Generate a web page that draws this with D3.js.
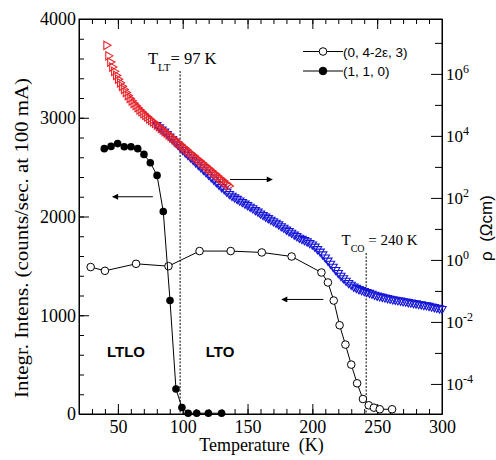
<!DOCTYPE html>
<html lang="en">
<head>
<meta charset="utf-8">
<title>Integrated intensity and resistivity vs temperature</title>
<script src="https://d3js.org/d3.v7.min.js"></script>
<style>
	body{ margin:0; background:#fff; }
	.axis path, .axis line{ stroke:#000; }
</style>
</head>
<body>
<script>

// ---- data ----
// (0, 4-2e, 3) reflection, open circles
var openT = [29, 40, 64, 89, 113, 137, 161, 184, 207, 212, 216.5, 221, 225.5, 230, 234.5, 239, 243.5, 247.5, 252, 261.5];
var openI = [1488, 1450, 1521, 1497, 1650, 1650, 1636, 1595, 1433, 1332, 1149, 899, 703, 500, 311, 152, 88, 64, 48, 48];

// (1, 1, 0) reflection, filled circles
var fillT = [39.5, 44.7, 49.8, 54.9, 60.1, 65.3, 70.1, 75, 80.2, 85, 90.2, 94.8, 99.4, 104.2, 110.8, 119.8, 130];
var fillI = [2687, 2710, 2738, 2707, 2707, 2687, 2629, 2545, 2416, 2051, 1149, 253, 66, 8, 8, 8, 8];

// resistivity, log10(rho / Ohm cm)
var redT = [41, 42.5, 44, 45.5, 47, 48.5, 50, 51.5, 53, 54.5, 56, 57.5, 59, 60.5, 62, 63.5, 65, 66.5, 68, 69.5,
	71, 72.5, 74, 75.5, 77, 78.5, 80, 81.5, 83, 84.5, 86, 87.5, 89, 90.5, 92, 93.5, 95, 96.5, 98, 99.5,
	101, 102.5, 104, 105.5, 107, 108.5, 110, 111.5, 113, 114.5, 116, 117.5, 119, 120.5, 122, 123.5, 125, 126.5, 128, 129.5,
	131, 132.5, 134, 135.5];
var redLog = [6.92, 6.58, 6.38, 6.22, 6.08, 5.95, 5.83, 5.71, 5.60, 5.50, 5.40, 5.30, 5.21, 5.13, 5.05, 4.98, 4.91, 4.84, 4.78, 4.72,
	4.66, 4.61, 4.55, 4.50, 4.45, 4.40, 4.35, 4.30, 4.24, 4.19, 4.14, 4.09, 4.03, 3.98, 3.93, 3.88, 3.82, 3.77, 3.72, 3.66,
	3.61, 3.56, 3.50, 3.45, 3.40, 3.35, 3.29, 3.24, 3.19, 3.13, 3.08, 3.03, 2.97, 2.92, 2.87, 2.81, 2.76, 2.71, 2.65, 2.60,
	2.55, 2.49, 2.44, 2.38];

var blueT = [80, 82, 84, 86, 88, 90, 92, 94, 96, 98, 100, 102, 104, 106, 108, 110, 112, 114, 116, 118,
	120, 122, 124, 126, 128, 130, 132, 134, 136, 138, 140, 142, 144, 146, 148, 150, 152, 154, 156, 158,
	160, 162, 164, 166, 168, 170, 172, 174, 176, 178, 180, 182, 184, 186, 188, 190, 192, 194, 196, 198,
	200, 202, 204, 206, 208, 210, 212, 214, 216, 218, 220, 222, 224, 226, 228, 230, 232, 234, 236, 238,
	240, 242, 244, 246, 248, 250, 252, 254, 256, 258, 260, 262, 264, 266, 268, 270, 272, 274, 276, 278,
	280, 282, 284, 286, 288, 290, 292, 294, 296, 298, 300];
var blueLog = [4.35, 4.28, 4.21, 4.14, 4.06, 3.98, 3.90, 3.81, 3.73, 3.64, 3.55, 3.47, 3.39, 3.31, 3.23, 3.15, 3.07, 2.99, 2.91, 2.83,
	2.75, 2.67, 2.59, 2.51, 2.43, 2.35, 2.28, 2.20, 2.13, 2.07, 2.02, 1.97, 1.92, 1.87, 1.82, 1.77, 1.72, 1.67, 1.61, 1.56,
	1.50, 1.45, 1.40, 1.35, 1.30, 1.25, 1.20, 1.15, 1.09, 1.04, 0.98, 0.93, 0.88, 0.82, 0.77, 0.72, 0.68, 0.64, 0.60, 0.55,
	0.50, 0.43, 0.35, 0.27, 0.18, 0.08, -0.02, -0.12, -0.22, -0.32, -0.42, -0.51, -0.59, -0.67, -0.74, -0.80, -0.86, -0.90, -0.94, -0.97,
	-1.00, -1.03, -1.06, -1.09, -1.12, -1.15, -1.17, -1.19, -1.21, -1.23, -1.25, -1.27, -1.28, -1.30, -1.31, -1.33, -1.34, -1.36, -1.37, -1.39,
	-1.40, -1.42, -1.43, -1.45, -1.46, -1.48, -1.50, -1.52, -1.54, -1.56, -1.58];

// ticks
var xMajor = [50, 100, 150, 200, 250, 300];
var yMajor = [0, 1000, 2000, 3000, 4000];
var rhoExp = [-4, -3, -2, -1, 0, 1, 2, 3, 4, 5, 6, 7];

// transitions and arrows (in data units)
var tLT = 98, tCO = 241.5;
var arrows = [
	{ from:[77, 2200], to:[46, 2200] },
	{ from:[136.5, 2375], to:[169, 2375] },
	{ from:[208.5, 1160], to:[176.5, 1160] }
];

// ---- layout ----
var w = 496, h = 460;
var pLeft = 79, pRight = 442, pTop = 19, pBottom = 414;
var serif = "'Liberation Serif', 'Times New Roman', serif";
var sans = "'Liberation Sans', Arial, sans-serif";

var x = d3.scaleLinear().domain([20, 300]).range([pLeft, pRight]);
var y = d3.scaleLinear().domain([0, 4000]).range([pBottom, pTop]);
var yR = d3.scaleLog().domain([Math.pow(10, -4.97), Math.pow(10, 7.77)]).range([pBottom, pTop]);

var svg = d3.select("body").append("svg").attr("width", w).attr("height", h);

svg.append("defs").append("marker")
	.attr("id", "head").attr("viewBox", "0 0 10 10")
	.attr("refX", 9).attr("refY", 5)
	.attr("markerWidth", 9).attr("markerHeight", 6)
	.attr("markerUnits", "userSpaceOnUse")
	.attr("orient", "auto")
	.append("path").attr("d", "M0,0 L10,5 L0,10 z").attr("fill", "#000");

function serifText(g){
	g.selectAll("text").style("font-family", serif).style("font-size", "18px").attr("fill", "#000");
}

// ---- axes ----
svg.append("g").attr("class", "axis").attr("transform", "translate(0," + pBottom + ")")
	.call(d3.axisBottom(x).tickValues(xMajor).tickSize(-10).tickSizeOuter(0).tickPadding(6).tickFormat(d3.format("d")))
	.call(serifText);
svg.append("g").attr("class", "axis").attr("transform", "translate(0," + pBottom + ")")
	.call(d3.axisBottom(x).tickValues(d3.range(20, 301, 10)).tickSize(-5).tickFormat(""))
	.select(".domain").remove();
svg.append("g").attr("class", "axis").attr("transform", "translate(0," + pTop + ")")
	.call(d3.axisTop(x).tickValues(xMajor).tickSize(-10).tickSizeOuter(0).tickFormat(""));
svg.append("g").attr("class", "axis").attr("transform", "translate(0," + pTop + ")")
	.call(d3.axisTop(x).tickValues(d3.range(20, 301, 10)).tickSize(-5).tickFormat(""))
	.select(".domain").remove();

svg.append("g").attr("class", "axis").attr("transform", "translate(" + pLeft + ",0)")
	.call(d3.axisLeft(y).tickValues(yMajor).tickSize(-10).tickSizeOuter(0).tickPadding(3).tickFormat(d3.format("d")))
	.call(serifText);
svg.append("g").attr("class", "axis").attr("transform", "translate(" + pLeft + ",0)")
	.call(d3.axisLeft(y).tickValues(d3.range(0, 4001, 200)).tickSize(-5).tickFormat(""))
	.select(".domain").remove();

var yr = svg.append("g").attr("class", "axis").attr("transform", "translate(" + pRight + ",0)")
	.call(d3.axisRight(yR).tickValues(rhoExp.map(function(e){ return Math.pow(10, e); }))
		.tickSize(-11).tickSizeOuter(0).tickPadding(4).tickFormat(""));
yr.selectAll(".tick").each(function(d){
	var e = Math.round(Math.log10(d));
	var g = d3.select(this);
	if (e % 2 !== 0) { g.select("line").attr("x2", -7); return; }
	var t = g.select("text").style("font-family", serif).style("font-size", "17px").attr("fill", "#000");
	t.text("10");
	t.append("tspan").attr("dy", "-0.6em").style("font-size", "12px").text(e);
});

svg.append("rect").attr("x", pLeft).attr("y", pTop).attr("width", pRight - pLeft).attr("height", pBottom - pTop)
	.attr("fill", "none").attr("stroke", "#000");

// axis titles
svg.append("text").attr("x", (pLeft + pRight) / 2 + 1).attr("y", 451)
	.attr("text-anchor", "middle").style("font-family", serif).style("font-size", "18px")
	.style("white-space", "pre").text("Temperature  (K)");
svg.append("text")
	.attr("transform", "translate(28,238) rotate(-90)")
	.attr("text-anchor", "middle").style("font-family", serif).style("font-size", "18px")
	.attr("textLength", 320).attr("lengthAdjust", "spacingAndGlyphs")
	.text("Integr. Intens. (counts/sec. at 100 mA)");
svg.append("text")
	.attr("transform", "translate(492,228) rotate(-90)")
	.attr("text-anchor", "middle").style("font-family", sans).style("font-size", "17px")
	.style("white-space", "pre")
	.text("ρ  (Ωcm)");

// ---- transition lines ----
svg.append("line").attr("x1", x(tLT)).attr("x2", x(tLT)).attr("y1", 71).attr("y2", pBottom)
	.attr("stroke", "#000").attr("stroke-dasharray", "2,1.5");
svg.append("line").attr("x1", x(tCO)).attr("x2", x(tCO)).attr("y1", 253).attr("y2", pBottom)
	.attr("stroke", "#000").attr("stroke-dasharray", "2,1.5");

// ---- resistivity ----
var tri = d3.symbol().type(d3.symbolTriangle).size(30);
var blue = blueT.map(function(t, i){ return [t, Math.pow(10, blueLog[i])]; });
var red = redT.map(function(t, i){ return [t, Math.pow(10, redLog[i])]; });

svg.append("g").selectAll("path").data(blue).enter().append("path")
	.attr("d", tri)
	.attr("transform", function(d){ return "translate(" + x(d[0]) + "," + yR(d[1]) + ") rotate(180)"; })
	.attr("fill", "none").attr("stroke", "#1616d8").attr("stroke-width", 1.1);
svg.append("g").selectAll("path").data(red).enter().append("path")
	.attr("d", tri)
	.attr("transform", function(d){ return "translate(" + x(d[0]) + "," + yR(d[1]) + ") rotate(90)"; })
	.attr("fill", "none").attr("stroke", "#e8242a").attr("stroke-width", 1.1);

// ---- intensities ----
var line = d3.line().x(function(d){ return x(d[0]); }).y(function(d){ return y(d[1]); });
var open = openT.map(function(t, i){ return [t, openI[i]]; });
var filled = fillT.map(function(t, i){ return [t, fillI[i]]; });

svg.append("path").datum(open).attr("d", line).attr("fill", "none").attr("stroke", "#000");
svg.append("g").selectAll("circle").data(open).enter().append("circle")
	.attr("cx", function(d){ return x(d[0]); }).attr("cy", function(d){ return y(d[1]); })
	.attr("r", 3.8).attr("fill", "#fff").attr("stroke", "#000");

svg.append("path").datum(filled).attr("d", line).attr("fill", "none").attr("stroke", "#000");
svg.append("g").selectAll("circle").data(filled).enter().append("circle")
	.attr("cx", function(d){ return x(d[0]); }).attr("cy", function(d){ return y(d[1]); })
	.attr("r", 3.8).attr("fill", "#000");

// arrows
svg.append("g").selectAll("line").data(arrows).enter().append("line")
	.attr("x1", function(d){ return x(d.from[0]); }).attr("y1", function(d){ return y(d.from[1]); })
	.attr("x2", function(d){ return x(d.to[0]); }).attr("y2", function(d){ return y(d.to[1]); })
	.attr("stroke", "#000").attr("marker-end", "url(#head)");

// ---- annotations ----
var lt = svg.append("text").attr("x", 148).attr("y", 64).style("font-family", serif).style("font-size", "16.5px");
lt.append("tspan").text("T");
lt.append("tspan").attr("dy", 7).style("font-size", "11px").text("LT");
lt.append("tspan").attr("dy", -7).text("= 97 K");

var co = svg.append("text").attr("x", 341.5).attr("y", 245).style("font-family", serif).style("font-size", "15px");
co.append("tspan").text("T");
co.append("tspan").attr("dy", 7).style("font-size", "10px").text("CO");
co.append("tspan").attr("dy", -7).style("white-space", "pre").text(" = 240 K");

svg.append("text").attr("x", 126).attr("y", 357)
	.attr("text-anchor", "middle").style("font-family", sans).style("font-size", "15px").style("font-weight", "bold").text("LTLO");
svg.append("text").attr("x", 220).attr("y", 357)
	.attr("text-anchor", "middle").style("font-family", sans).style("font-size", "15px").style("font-weight", "bold").text("LTO");

// legend
var legend = [
	{ label:"(0, 4-2ε, 3)", fill:"#fff", y:51.5 },
	{ label:"(1, 1, 0)", fill:"#000", y:71 }
];
var lg = svg.append("g").selectAll("g").data(legend).enter().append("g");
lg.append("line").attr("x1", 303).attr("x2", 343).attr("y1", function(d){ return d.y; }).attr("y2", function(d){ return d.y; })
	.attr("stroke", "#000");
lg.append("circle").attr("cx", 323).attr("cy", function(d){ return d.y; }).attr("r", 3.8)
	.attr("fill", function(d){ return d.fill; }).attr("stroke", "#000");
lg.append("text").attr("x", 343).attr("y", function(d){ return d.y + 5; })
	.style("font-family", sans).style("font-size", "13.5px").text(function(d){ return d.label; });

</script>
</body>
</html>
